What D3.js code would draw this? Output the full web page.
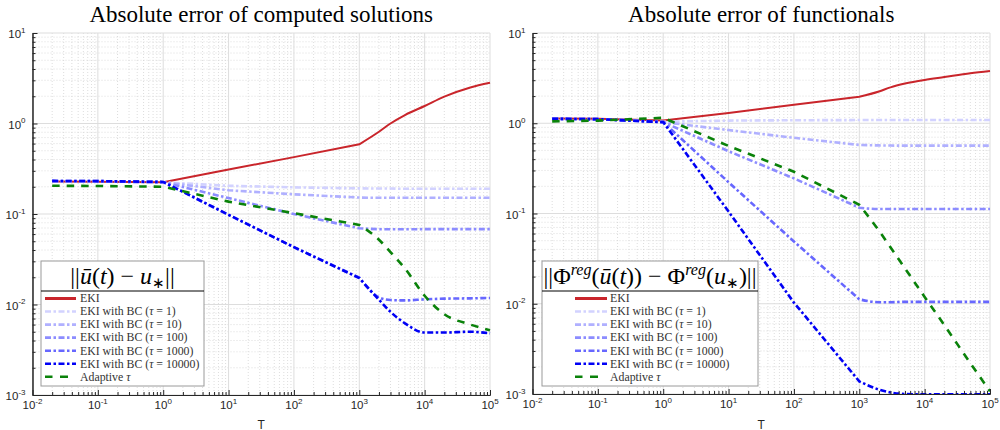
<!DOCTYPE html>
<html>
<head>
<meta charset="utf-8">
<script src="https://cdn.jsdelivr.net/npm/d3@7"></script>
<style>
  body { margin: 0; background: #fff; }
  svg { display: block; }
</style>
</head>
<body>
<svg id="chart"></svg>
<script>
const width = 1000;
const height = 430;

// sample times (T)
const T = [0.02, 0.1, 1, 10, 100, 1000, 2000, 3000, 5000, 1e4, 2e4, 5e4, 1e5];

// absolute error of computed solutions
const solEKI      = [0.228, 0.227, 0.225, 0.31, 0.425, 0.589, 0.81, 1.0, 1.24, 1.56, 1.98, 2.5, 2.82];
const solTau1     = [0.23, 0.229, 0.224, 0.205, 0.197, 0.192, 0.191, 0.191, 0.19, 0.19, 0.19, 0.19, 0.19];
const solTau10    = [0.23, 0.229, 0.224, 0.183, 0.165, 0.152, 0.151, 0.151, 0.151, 0.151, 0.151, 0.151, 0.151];
const solTau100   = [0.23, 0.229, 0.224, 0.15, 0.1, 0.0695, 0.068, 0.0678, 0.0678, 0.068, 0.068, 0.068, 0.068];
const solTau1000  = [0.232, 0.231, 0.226, 0.098, 0.043, 0.0198, 0.012, 0.0112, 0.0111, 0.0114, 0.0116, 0.0117, 0.0118];
const solTau10000 = [0.232, 0.231, 0.226, 0.098, 0.043, 0.0196, 0.0113, 0.0083, 0.0062, 0.0049, 0.0049, 0.005, 0.0048];
const solAdaptive = [0.205, 0.204, 0.2, 0.137, 0.102, 0.0758, 0.052, 0.038, 0.025, 0.0125, 0.0078, 0.006, 0.0052];

// absolute error of functionals
const funEKI      = [1.13, 1.12, 1.07, 1.3, 1.6, 1.97, 2.25, 2.5, 2.75, 3.02, 3.25, 3.58, 3.8];
const funTau1     = [1.12, 1.11, 1.04, 1.07, 1.08, 1.085, 1.085, 1.085, 1.085, 1.085, 1.085, 1.085, 1.085];
const funTau10    = [1.12, 1.11, 1.03, 0.84, 0.69, 0.575, 0.568, 0.566, 0.565, 0.565, 0.565, 0.565, 0.565];
const funTau100   = [1.12, 1.11, 1.03, 0.49, 0.245, 0.116, 0.112, 0.112, 0.112, 0.112, 0.112, 0.112, 0.112];
const funTau1000  = [1.12, 1.11, 1.03, 0.222, 0.049, 0.0112, 0.0104, 0.0104, 0.0105, 0.0105, 0.0105, 0.0105, 0.0105];
const funTau10000 = [1.12, 1.11, 1.03, 0.105, 0.0103, 0.00138, 0.00112, 0.00104, 0.001, 0.00099, 0.00099, 0.00099, 0.00099];
const funAdaptive = [1.05, 1.07, 1.15, 0.56, 0.29, 0.125, 0.0645, 0.0423, 0.0247, 0.0119, 0.0058, 0.0022, 0.00107];

// series labels and look
const seriesNames = ["EKI", "tau1", "tau10", "tau100", "tau1000", "tau10000", "adaptive"];
const tauValues = [1, 10, 100, 1000, 10000];
const seriesColors = ["#c9252b", "#d2d2ff", "#b0b0ff", "#8c8cff", "#6767ff", "#0000f5", "#0a820a"];
const seriesDash = [null, "6,2.5,2.5,2.5", "6,2.5,2.5,2.5", "6,2.5,2.5,2.5", "6,2.5,2.5,2.5", "6,2.5,2.5,2.5", "7.5,7"];
const legendDash = [null, "6,2.5,2.5,2.5", "6,2.5,2.5,2.5", "6,2.5,2.5,2.5", "6,2.5,2.5,2.5", "6,2.5,2.5,2.5", "7.5,7.5,8,30"];

const xTickExps = [-2, -1, 0, 1, 2, 3, 4, 5];
const yTickExps = [-3, -2, -1, 0, 1];

const panels = [
  { title: "Absolute error of computed solutions", left: 32.5, right: 490, top: 33, bottom: 395,
    data: [solEKI, solTau1, solTau10, solTau100, solTau1000, solTau10000, solAdaptive],
    legend: { x0: 41, x1: 204, lineX: 45, lineW: 31, textX: 80 }, lt: "sol" },
  { title: "Absolute error of functionals", left: 532.5, right: 990, top: 33, bottom: 394,
    data: [funEKI, funTau1, funTau10, funTau100, funTau1000, funTau10000, funAdaptive],
    legend: { x0: 542, x1: 758, lineX: 575, lineW: 32, textX: 610 }, lt: "fun" }
];

// index where the sampling switches from straight segments to a smooth tail
const kink = 5;

var svg = d3.select("#chart")
  .attr("width", width)
  .attr("height", height);

function powLabel(g, exp, px, py, anchor) {
  var t = g.append("text")
    .attr("x", px).attr("y", py)
    .attr("text-anchor", anchor)
    .attr("font-family", "Liberation Sans, Arial, sans-serif")
    .attr("font-size", 11.5)
    .attr("fill", "#262626");
  t.append("tspan").text("10");
  t.append("tspan").attr("dy", -5.5).attr("font-size", 8).text(String(exp));
}

panels.forEach(function(p, pi) {
  var x = d3.scaleLog().domain([1e-2, 1e5]).range([p.left, p.right]);
  var y = d3.scaleLog().domain([1e-3, 1e1]).range([p.bottom, p.top]);
  var g = svg.append("g");

  // minor values per decade
  var minorX = [], minorY = [];
  xTickExps.slice(0, -1).forEach(function(e) { for (var k = 2; k <= 9; k++) minorX.push(k * Math.pow(10, e)); });
  yTickExps.slice(0, -1).forEach(function(e) { for (var k = 2; k <= 9; k++) minorY.push(k * Math.pow(10, e)); });
  var majorX = xTickExps.map(function(e) { return Math.pow(10, e); });
  var majorY = yTickExps.map(function(e) { return Math.pow(10, e); });

  // minor grid
  g.append("g").selectAll("line").data(minorX).enter().append("line")
    .attr("x1", d => x(d)).attr("x2", d => x(d))
    .attr("y1", p.top).attr("y2", p.bottom)
    .attr("stroke", "#d4d4d4").attr("stroke-width", 0.8).attr("stroke-dasharray", "1,2");
  g.append("g").selectAll("line").data(minorY).enter().append("line")
    .attr("y1", d => y(d)).attr("y2", d => y(d))
    .attr("x1", p.left).attr("x2", p.right)
    .attr("stroke", "#d4d4d4").attr("stroke-width", 0.8).attr("stroke-dasharray", "1,2");
  // major grid
  g.append("g").selectAll("line").data(majorX).enter().append("line")
    .attr("x1", d => x(d)).attr("x2", d => x(d))
    .attr("y1", p.top).attr("y2", p.bottom)
    .attr("stroke", "#dddddd").attr("stroke-width", 1);
  g.append("g").selectAll("line").data(majorY).enter().append("line")
    .attr("y1", d => y(d)).attr("y2", d => y(d))
    .attr("x1", p.left).attr("x2", p.right)
    .attr("stroke", "#dddddd").attr("stroke-width", 1);

  // curves
  svg.append("clipPath").attr("id", "clip" + pi)
    .append("rect").attr("x", p.left).attr("y", p.top - 2)
    .attr("width", p.right - p.left + 2).attr("height", p.bottom - p.top + 3);

  var straight = d3.line()
    .x(d => x(d[0]))
    .y(d => y(d[1]));
  var smooth = d3.line()
    .x(d => x(d[0]))
    .y(d => y(d[1]))
    .curve(d3.curveMonotoneX);

  var curves = g.append("g").attr("clip-path", "url(#clip" + pi + ")");
  p.data.forEach(function(vals, si) {
    var pts = vals.map((v, i) => [T[i], v]);
    var path = straight(pts.slice(0, kink + 1)) + smooth(pts.slice(kink)).replace(/^M/, "L");
    curves.append("path")
      .attr("d", path)
      .attr("fill", "none")
      .attr("stroke", seriesColors[si])
      .attr("stroke-width", si == 0 ? 2 : 2.6)
      .attr("stroke-dasharray", seriesDash[si]);
  });

  // axes with inward ticks
  var ax = g.append("g").attr("color", "#262626");
  ax.append("g").attr("transform", "translate(0," + p.bottom + ")")
    .call(d3.axisBottom(x).tickValues(minorX).tickSize(-3).tickSizeOuter(0).tickFormat(""));
  ax.append("g").attr("transform", "translate(0," + p.bottom + ")")
    .call(d3.axisBottom(x).tickValues(majorX).tickSize(-5).tickSizeOuter(0).tickFormat(""));
  ax.append("g").attr("transform", "translate(" + p.left + ",0)")
    .call(d3.axisLeft(y).tickValues(minorY).tickSize(-3).tickSizeOuter(0).tickFormat(""));
  ax.append("g").attr("transform", "translate(" + p.left + ",0)")
    .call(d3.axisLeft(y).tickValues(majorY).tickSize(-5).tickSizeOuter(0).tickFormat(""));

  // tick labels
  xTickExps.forEach(function(e) { powLabel(g, e, x(Math.pow(10, e)), p.bottom + 14, "middle"); });
  yTickExps.forEach(function(e) { powLabel(g, e, p.left - 7, y(Math.pow(10, e)) + 5, "end"); });

  g.append("text")
    .attr("x", (p.left + p.right) / 2).attr("y", 428.5)
    .attr("text-anchor", "middle")
    .attr("font-family", "Liberation Sans, Arial, sans-serif")
    .attr("font-size", 12).attr("fill", "#262626")
    .text("T");

  // title
  g.append("text")
    .attr("x", (p.left + p.right) / 2).attr("y", 22)
    .attr("text-anchor", "middle")
    .attr("font-family", "Liberation Serif, serif")
    .attr("font-size", 23).attr("fill", "#000")
    .text(p.title);

  // legend
  var L = p.legend;
  var lg = g.append("g");
  lg.append("rect")
    .attr("x", L.x0).attr("y", 261).attr("width", L.x1 - L.x0).attr("height", 125)
    .attr("fill", "#fff").attr("stroke", "#9a9a9a").attr("stroke-width", 1);
  lg.append("line")
    .attr("x1", L.x0).attr("x2", L.x1).attr("y1", 291).attr("y2", 291)
    .attr("stroke", "#000").attr("stroke-width", 1);

  var lt = lg.append("text")
    .attr("x", (L.x0 + L.x1) / 2).attr("y", 284)
    .attr("text-anchor", "middle")
    .attr("font-family", "Liberation Serif, serif")
    .attr("font-size", 24).attr("fill", "#000");
  if (p.lt == "sol") {
    lt.append("tspan").text("||");
    lt.append("tspan").attr("font-style", "italic").text("u\u0304");
    lt.append("tspan").text("(");
    lt.append("tspan").attr("font-style", "italic").text("t");
    lt.append("tspan").text(") \u2212 ");
    lt.append("tspan").attr("font-style", "italic").text("u");
    lt.append("tspan").attr("dy", 4).attr("font-size", 15).text("\u2217");
    lt.append("tspan").attr("dy", -4).text("||");
  } else {
    lt.append("tspan").text("||\u03A6");
    lt.append("tspan").attr("dy", -9).attr("font-size", 16).attr("font-style", "italic").text("reg");
    lt.append("tspan").attr("dy", 9).text("(");
    lt.append("tspan").attr("font-style", "italic").text("u\u0304");
    lt.append("tspan").text("(");
    lt.append("tspan").attr("font-style", "italic").text("t");
    lt.append("tspan").text(")) \u2212 \u03A6");
    lt.append("tspan").attr("dy", -9).attr("font-size", 16).attr("font-style", "italic").text("reg");
    lt.append("tspan").attr("dy", 9).text("(");
    lt.append("tspan").attr("font-style", "italic").text("u");
    lt.append("tspan").attr("dy", 4).attr("font-size", 15).text("\u2217");
    lt.append("tspan").attr("dy", -4).text(")||");
  }

  seriesNames.forEach(function(name, si) {
    var ry = 298.5 + si * 13.05;
    lg.append("line")
      .attr("x1", L.lineX).attr("x2", L.lineX + L.lineW)
      .attr("y1", ry).attr("y2", ry)
      .attr("stroke", seriesColors[si])
      .attr("stroke-width", si == 0 ? 3 : 2.6)
      .attr("stroke-dasharray", legendDash[si]);
    var tx = lg.append("text")
      .attr("x", L.textX).attr("y", ry + 3.8)
      .attr("font-family", "Liberation Serif, serif")
      .attr("font-size", 11.8).attr("fill", "#333");
    if (si == 0) {
      tx.text("EKI");
    } else if (si <= 5) {
      tx.append("tspan").text("EKI with BC (");
      tx.append("tspan").attr("font-style", "italic").text("\u03C4");
      tx.append("tspan").text(" = " + tauValues[si - 1] + ")");
    } else {
      tx.append("tspan").text("Adaptive ");
      tx.append("tspan").attr("font-style", "italic").text("\u03C4");
    }
  });
});
</script>
</body>
</html>
